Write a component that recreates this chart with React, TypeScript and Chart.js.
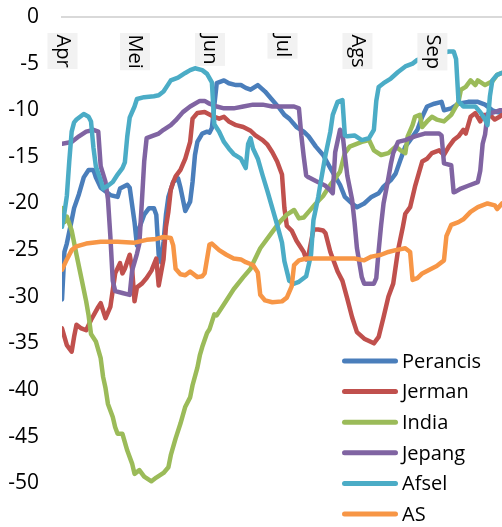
import { useEffect, useRef } from "react";
import { Chart, registerables } from "chart.js";

Chart.register(...registerables);

const FONT = '"Open Sans", "Noto Sans", sans-serif';

// Day numbers are counted from 1 April (day 0).
const monthStarts = [0, 30, 61, 91, 122, 153];
const monthLabels = ["Apr", "Mei", "Jun", "Jul", "Ags", "Sep"];
const yTicks = [0, -5, -10, -15, -20, -25, -30, -35, -40, -45, -50];

const seriesNames = ["Perancis", "Jerman", "India", "Jepang", "Afsel", "AS"];
const seriesColors = ["#4a7ebb", "#c0504d", "#9bbb59", "#8064a2", "#4bacc6", "#f79646"];

// [day, change in %]
const perancis: [number, number][] = [
  [0, -30.3], [1, -25.2], [2, -24.3], [4, -21.8], [5, -20.5], [7, -19.0], [9, -17.2], [11, -16.4],
  [13, -16.4], [14, -17.2], [16, -18.3], [20, -19.1], [23, -19.3], [24, -18.4], [27, -18.0], [28, -18.3],
  [30, -22.0], [31, -24.5], [32, -22.6], [34, -21.2], [36, -20.5], [38, -20.5], [39, -21.2], [40, -25.5],
  [41, -26.3], [42, -24.1], [43, -21.2], [44, -19.3], [46, -17.7], [48, -17.3], [49, -18.3], [51, -20.8],
  [53, -19.8], [54, -17.7], [55, -14.8], [56, -13.4], [58, -12.5], [60, -12.3], [61, -12.4], [62, -11.9],
  [63, -9.5], [64, -7.1], [67, -6.8], [69, -7.1], [72, -7.3], [74, -7.3], [76, -7.6], [78, -7.8],
  [81, -7.3], [84, -8.0], [87, -8.9], [90, -9.8], [92, -10.5], [94, -10.9], [97, -11.8], [100, -12.3],
  [102, -12.8], [105, -13.9], [108, -14.8], [111, -16.2], [115, -18.0], [117, -19.3], [120, -20.0],
  [122, -20.4], [125, -20.0], [128, -19.3], [131, -18.9], [133, -18.2], [136, -17.5], [138, -16.8],
  [140, -15.3], [142, -13.9], [144, -13.2], [147, -12.1], [149, -10.7], [151, -9.6], [154, -9.3],
  [157, -9.1], [158, -10.0], [161, -9.8], [164, -9.3], [168, -9.1], [172, -9.1], [175, -9.4],
  [178, -10.0], [180, -10.2], [182, -10.3],
];

const jerman: [number, number][] = [
  [0, -33.4], [2, -35.2], [4, -35.9], [5, -34.3], [6, -33.0], [8, -33.4], [10, -33.6], [12, -32.5],
  [15, -31.1], [16, -30.7], [18, -32.3], [20, -31.1], [21, -29.3], [22, -27.5], [24, -26.4], [25, -27.5],
  [26, -27.0], [28, -25.5], [29, -27.0], [30, -30.5], [31, -29.0], [33, -28.6], [35, -28.0], [37, -27.2],
  [39, -25.9], [40, -28.8], [42, -26.0], [43, -22.5], [44, -20.9], [45, -18.5], [46, -17.7], [47, -17.1],
  [49, -16.4], [51, -15.2], [53, -13.4], [54, -10.9], [56, -10.3], [59, -10.2], [62, -10.6], [65, -10.9],
  [67, -10.7], [69, -11.2], [72, -11.6], [75, -11.8], [78, -12.2], [80, -12.7], [83, -13.2], [85, -13.7],
  [87, -14.5], [89, -15.5], [91, -16.9], [92, -20.5], [93, -22.4], [95, -22.9], [97, -24.0], [100, -25.2],
  [101, -26.0], [102, -25.5], [104, -22.8], [106, -22.8], [108, -22.9], [109, -23.2], [111, -25.2],
  [114, -27.3], [116, -28.3], [118, -30.2], [120, -32.2], [122, -33.8], [125, -34.5], [129, -35.0],
  [131, -34.3], [133, -32.2], [135, -30.0], [137, -28.6], [139, -25.0], [141, -22.5], [142, -21.1],
  [144, -20.4], [146, -18.2], [148, -16.4], [149, -15.5], [151, -15.2], [153, -14.6], [156, -14.3],
  [158, -14.8], [160, -13.9], [162, -13.2], [164, -12.8], [166, -12.1], [167, -12.5], [169, -10.7],
  [171, -10.3], [173, -11.2], [174, -10.5], [177, -10.5], [179, -11.0], [181, -10.7], [182, -10.5],
];

const india: [number, number][] = [
  [0, -20.5], [1, -22.0], [2, -21.4], [4, -22.9], [6, -25.5], [8, -28.0], [10, -30.5], [11, -32.0],
  [12, -34.0], [14, -34.8], [16, -36.6], [17, -38.6], [18, -39.8], [19, -41.5], [21, -42.9], [22, -44.0],
  [23, -44.7], [25, -44.7], [27, -46.5], [29, -47.9], [30, -49.0], [32, -48.6], [34, -49.3], [37, -49.8],
  [39, -49.4], [42, -48.9], [44, -48.3], [45, -47.0], [47, -45.2], [49, -43.6], [51, -41.8], [53, -40.8],
  [54, -39.5], [56, -37.6], [57, -36.3], [58, -35.4], [60, -33.9], [61, -33.5], [63, -31.9], [64, -32.0],
  [67, -30.8], [71, -29.2], [75, -27.9], [78, -27.0], [79, -26.4], [82, -24.8], [86, -23.4], [90, -22.0],
  [93, -21.2], [96, -20.7], [98, -21.6], [100, -21.5], [102, -20.9], [105, -20.0], [108, -19.2],
  [111, -18.0], [115, -16.6], [117, -14.6], [119, -13.9], [124, -13.4], [127, -13.2], [129, -14.3],
  [132, -14.8], [135, -14.6], [138, -13.9], [140, -14.3], [142, -14.6], [143, -12.8], [145, -11.6],
  [146, -10.7], [148, -10.5], [149, -11.8], [151, -11.2], [153, -10.7], [155, -11.0], [158, -11.2],
  [161, -10.5], [164, -9.1], [165, -7.8], [167, -7.5], [169, -6.8], [171, -7.3], [172, -6.8],
  [175, -7.3], [178, -6.9], [180, -6.2], [182, -6.0],
];

const jepang: [number, number][] = [
  [0, -13.6], [4, -13.4], [7, -12.8], [10, -12.3], [13, -12.1], [15, -12.3], [16, -16.0], [18, -17.7],
  [19, -19.5], [20, -23.5], [21, -28.3], [22, -29.4], [25, -29.6], [28, -29.8], [29, -27.2], [31, -25.4],
  [32, -24.3], [33, -20.0], [34, -15.5], [35, -13.0], [38, -12.7], [40, -12.5], [42, -12.1], [45, -11.6],
  [47, -11.1], [50, -10.2], [53, -9.6], [57, -9.0], [59, -9.0], [61, -9.3], [64, -9.6], [67, -9.8],
  [71, -9.8], [75, -9.6], [79, -9.4], [83, -9.4], [87, -9.6], [91, -9.6], [96, -9.6], [98, -9.8],
  [99, -12.7], [100, -15.0], [101, -17.0], [102, -17.2], [105, -17.6], [109, -18.1], [111, -18.6],
  [112, -18.9], [113, -14.5], [115, -12.1], [116, -12.4], [117, -14.8], [118, -17.0], [120, -19.6],
  [121, -22.0], [122, -24.8], [124, -27.9], [125, -28.6], [127, -28.6], [129, -28.6], [130, -28.0],
  [131, -25.0], [132, -22.3], [133, -20.0], [135, -17.3], [136, -15.8], [137, -14.6], [138, -14.0],
  [139, -13.4], [142, -13.2], [144, -13.0], [146, -12.8], [150, -12.5], [154, -12.5], [156, -12.5],
  [157, -12.7], [158, -15.7], [161, -15.9], [162, -18.8], [163, -18.7], [165, -18.4], [168, -18.1],
  [172, -17.7], [173, -16.5], [174, -13.6], [175, -12.6], [176, -10.4], [179, -10.2], [181, -10.0],
  [182, -10.0],
];

const afsel: [number, number][] = [
  [0, -22.5], [1, -21.0], [2, -19.2], [3, -15.5], [4, -12.3], [5, -11.3], [6, -11.0], [9, -10.4],
  [11, -10.7], [12, -11.2], [13, -14.0], [14, -16.0], [16, -17.5], [17, -18.4], [19, -18.1], [21, -17.7],
  [23, -16.9], [25, -16.2], [26, -15.6], [27, -12.8], [28, -10.8], [30, -9.6], [31, -8.8], [34, -8.6],
  [38, -8.5], [40, -8.4], [42, -8.0], [44, -7.2], [45, -6.8], [48, -6.5], [51, -6.0], [53, -5.7],
  [55, -5.5], [58, -5.7], [60, -6.1], [62, -7.0], [63, -11.5], [65, -12.3], [67, -13.4], [69, -14.1],
  [71, -14.7], [74, -15.2], [76, -16.2], [77, -13.6], [78, -13.0], [79, -14.1], [81, -15.2], [83, -17.0],
  [85, -18.7], [87, -20.5], [89, -22.3], [91, -24.2], [92, -26.2], [94, -28.3], [96, -28.6], [98, -28.4],
  [101, -27.8], [103, -25.5], [104, -21.8], [106, -19.3], [107, -17.7], [109, -14.8], [111, -12.3],
  [112, -10.5], [114, -9.1], [116, -8.9], [117, -12.7], [118, -12.8], [121, -12.7], [124, -13.2],
  [127, -13.0], [129, -12.1], [130, -9.0], [131, -7.5], [133, -7.1], [136, -6.6], [139, -5.9],
  [142, -5.3], [145, -5.0], [147, -4.6], [153, -4.1], [160, -3.7], [162, -3.7], [163, -4.5], [164, -9.0],
  [166, -9.6], [171, -9.6], [173, -10.2], [175, -11.0], [176, -11.6], [177, -8.5], [178, -6.8],
  [180, -6.2], [182, -6.0],
];

const as: [number, number][] = [
  [0, -27.1], [2, -26.0], [4, -25.0], [6, -24.6], [10, -24.3], [16, -24.1], [23, -24.1], [30, -24.2],
  [35, -23.9], [39, -23.8], [42, -23.6], [45, -23.7], [46, -24.5], [47, -27.0], [49, -27.6], [51, -27.7],
  [53, -27.3], [56, -27.9], [58, -27.8], [59, -27.5], [61, -24.4], [62, -24.3], [65, -25.0], [68, -25.5],
  [71, -25.9], [74, -26.0], [76, -26.3], [79, -26.6], [81, -27.4], [82, -29.8], [84, -30.4], [87, -30.6],
  [91, -30.5], [93, -30.1], [95, -28.9], [96, -26.6], [98, -26.1], [101, -25.9], [107, -25.9],
  [112, -25.9], [118, -25.9], [121, -25.9], [125, -26.1], [128, -25.7], [132, -25.5], [135, -25.2],
  [138, -25.0], [142, -24.8], [144, -25.2], [145, -28.2], [147, -28.0], [149, -27.5], [152, -27.1],
  [155, -26.7], [158, -26.1], [159, -23.5], [161, -22.3], [164, -22.0], [166, -21.7], [169, -20.9],
  [172, -20.4], [176, -20.0], [179, -20.2], [180, -20.6], [182, -20.0],
];

const seriesData = [perancis, jerman, india, jepang, afsel, as];

// Month names hang below the zero line, rotated to read downwards, on a light grey box.
const monthLabelPlugin = {
  id: "monthLabels",
  afterDatasetsDraw(chart: Chart) {
    const { ctx, chartArea } = chart;
    const xs = chart.scales.x;
    const top = chartArea.top + 16;
    ctx.save();
    ctx.font = `20px ${FONT}`;
    monthStarts.forEach((day, i) => {
      const px = xs.getPixelForValue(day) + 0.5;
      const text = monthLabels[i];
      const w = ctx.measureText(text).width;
      ctx.fillStyle = "#f2f2f2";
      ctx.fillRect(px - 15, top, 30, w + 3);
      ctx.save();
      ctx.translate(px, top + 1.5);
      ctx.rotate(Math.PI / 2);
      ctx.fillStyle = "#000";
      ctx.textAlign = "left";
      ctx.textBaseline = "middle";
      ctx.fillText(text, 0, 0);
      ctx.restore();
    });
    ctx.restore();
  },
};

// Legend drawn inside the plot, bottom right: a short line sample and the series name.
const insideLegend = {
  id: "insideLegend",
  afterDraw(chart: Chart) {
    const { ctx, chartArea } = chart;
    const x0 = chartArea.right - 160;
    const y0 = chartArea.bottom - 166;
    ctx.save();
    ctx.font = `20px ${FONT}`;
    ctx.textAlign = "left";
    ctx.textBaseline = "middle";
    chart.data.datasets.forEach((ds, i) => {
      const y = y0 + i * 30.6;
      ctx.strokeStyle = ds.borderColor as string;
      ctx.lineWidth = 5;
      ctx.lineCap = "round";
      ctx.beginPath();
      ctx.moveTo(x0 + 2.5, y);
      ctx.lineTo(x0 + 53.5, y);
      ctx.stroke();
      ctx.fillStyle = "#000";
      ctx.fillText(String(ds.label), x0 + 60, y + 1);
    });
    ctx.restore();
  },
};

export default function App() {
  const canvasRef = useRef<HTMLCanvasElement | null>(null);

  useEffect(() => {
    const canvas = canvasRef.current;
    if (!canvas) return;

    const chart = new Chart(canvas, {
      type: "line",
      data: {
        datasets: seriesData.map((pts, i) => ({
          label: seriesNames[i],
          data: pts.map(([x, y]) => ({ x, y })),
          borderColor: seriesColors[i],
          backgroundColor: seriesColors[i],
          borderWidth: 4.5,
          pointRadius: 0,
          tension: 0,
          borderJoinStyle: "round" as const,
          borderCapStyle: "round" as const,
          order: seriesData.length - 1 - i,
        })),
      },
      options: {
        responsive: false,
        animation: false,
        devicePixelRatio: 1,
        layout: { padding: 0 },
        plugins: {
          legend: { display: false },
          tooltip: { enabled: false },
        },
        scales: {
          x: {
            type: "linear",
            position: "top",
            min: 0,
            max: 182,
            grid: { display: false, drawTicks: false },
            border: { display: true, color: "#d9d9d9", width: 2 },
            ticks: { display: false },
            afterFit: (s: any) => {
              s.height = 17;
              s.paddingLeft = 0;
              s.paddingRight = 0;
            },
          },
          y: {
            type: "linear",
            min: -54.7,
            max: 0,
            grid: { display: false, drawTicks: false },
            border: { display: false },
            afterBuildTicks: (s: any) => {
              s.ticks = yTicks.map((v) => ({ value: v }));
            },
            afterFit: (s: any) => {
              s.width = 62;
              s.paddingTop = 0;
              s.paddingBottom = 0;
            },
            ticks: {
              padding: 23,
              color: "#000",
              font: { family: FONT, size: 21 },
            },
          },
        },
      },
      plugins: [monthLabelPlugin, insideLegend],
    });

    return () => chart.destroy();
  }, []);

  return (
    <div style={{ position: "fixed", left: 0, top: 0, width: 502, height: 527, background: "#fff" }}>
      <canvas ref={canvasRef} width={502} height={527} style={{ display: "block" }} />
    </div>
  );
}
